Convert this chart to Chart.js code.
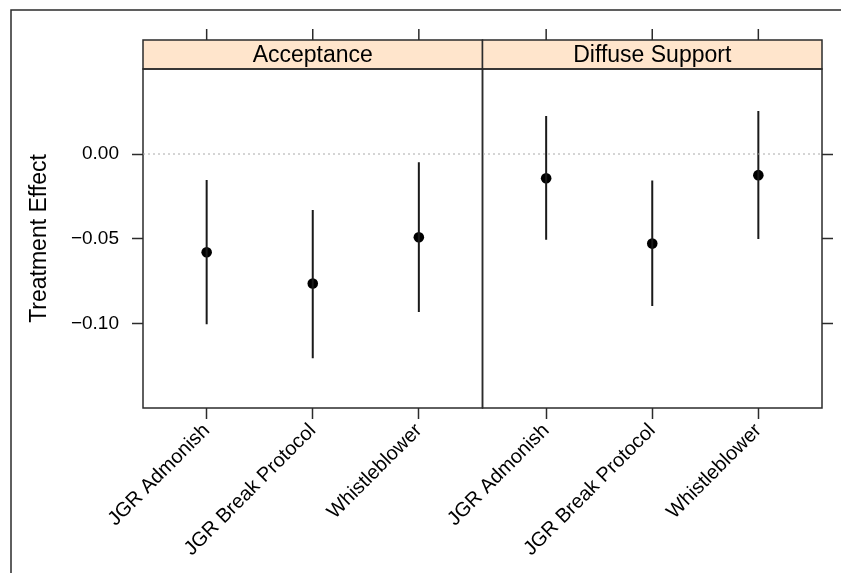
<!DOCTYPE html>
<html>
<head>
<meta charset="utf-8">
<script src="https://cdn.jsdelivr.net/npm/chart.js@4.4.1/dist/chart.umd.min.js"></script>
<style>
  body { margin: 0; background: #fff; }
  canvas { display: block; }
</style>
</head>
<body>
<canvas id="grafico" width="841" height="573"></canvas>
<script>
// datos del gráfico
const paneles = ["Acceptance", "Diffuse Support"];
const categorias = ["JGR Admonish", "JGR Break Protocol", "Whistleblower"];
const acceptanceEst = [-0.058, -0.0765, -0.0492];
const acceptanceLo = [-0.1006, -0.1206, -0.0933];
const acceptanceHi = [-0.0153, -0.0331, -0.0049];
const diffuseEst = [-0.0143, -0.0529, -0.0125];
const diffuseLo = [-0.0506, -0.0898, -0.0502];
const diffuseHi = [0.0224, -0.0157, 0.0254];
const yTicks = [0, -0.05, -0.10];
const yTickLabels = ["0.00", "\u22120.05", "\u22120.10"];

// posiciones x: cada panel ocupa 3.2 unidades
const anchoPanel = 3.2;
const xMin = 0.4;
const xMax = xMin + anchoPanel * paneles.length;
const xPos = [];
const xLabels = [];
paneles.forEach((p, j) => {
    categorias.forEach((c, i) => {
        xPos.push(i + 1 + j * anchoPanel);
        xLabels.push(c);
    });
});
const est = acceptanceEst.concat(diffuseEst);
const lo = acceptanceLo.concat(diffuseLo);
const hi = acceptanceHi.concat(diffuseHi);

// segmentos de los intervalos (null separa cada barra)
const barras = [];
xPos.forEach((x, i) => {
    barras.push({ x: x, y: lo[i] }, { x: x, y: hi[i] }, { x: x, y: null });
});
const puntos = xPos.map((x, i) => ({ x: x, y: est[i] }));

const fuente = "'Liberation Sans', Arial, sans-serif";
const borde = "#2b2b2b";
const alturaTira = 29;

// tiras, marco y cajas de los paneles
const panelesPlugin = {
    id: "paneles",
    beforeDraw(chart) {
        const c = chart.ctx;
        c.save();
        c.fillStyle = "#fff";
        c.fillRect(0, 0, chart.width, chart.height);
        c.strokeStyle = borde;
        c.lineWidth = 1.5;
        c.strokeRect(11, 10, chart.width + 20, chart.height + 20);
        c.restore();
    },
    beforeDatasetsDraw(chart) {
        const c = chart.ctx;
        const area = chart.chartArea;
        const sx = chart.scales.x;
        c.save();
        c.strokeStyle = borde;
        c.lineWidth = 1.5;
        paneles.forEach((nombre, j) => {
            const x0 = sx.getPixelForValue(xMin + j * anchoPanel);
            const x1 = sx.getPixelForValue(xMin + (j + 1) * anchoPanel);
            c.fillStyle = "#ffe5cc";
            c.fillRect(x0, area.top - alturaTira, x1 - x0, alturaTira);
            c.strokeRect(x0, area.top - alturaTira, x1 - x0, alturaTira);
            c.strokeRect(x0, area.top, x1 - x0, area.bottom - area.top);
            c.fillStyle = "#000";
            c.font = "23px " + fuente;
            c.textAlign = "center";
            c.textBaseline = "middle";
            c.fillText(nombre, (x0 + x1) / 2, area.top - alturaTira / 2 + 1);
        });
        // marcas superiores
        xPos.forEach(x => {
            const px = sx.getPixelForValue(x);
            c.beginPath();
            c.moveTo(px, area.top - alturaTira);
            c.lineTo(px, area.top - alturaTira - 11);
            c.stroke();
        });
        c.restore();
    }
};

const ejeY = (pos, conEtiquetas) => ({
    type: "linear",
    position: pos,
    min: -0.150,
    max: 0.0502,
    afterBuildTicks: s => { s.ticks = yTicks.map(v => ({ value: v })); },
    afterFit: s => { s.width = pos === "left" ? 143 : 841 - 822; },
    border: { display: false },
    grid: { drawOnChartArea: false, tickLength: 11, tickColor: borde, tickWidth: 1.5 },
    ticks: {
        display: conEtiquetas,
        padding: 13,
        color: "#000",
        font: { family: fuente, size: 19 },
        callback: v => yTickLabels[yTicks.indexOf(v)]
    },
    title: {
        display: conEtiquetas,
        text: "Treatment Effect",
        color: "#000",
        font: { family: fuente, size: 23 },
        padding: { top: 26, bottom: 0 }
    }
});

new Chart(document.getElementById("grafico"), {
    type: "scatter",
    data: {
        datasets: [
            {
                data: [{ x: xMin, y: 0 }, { x: xMax, y: 0 }],
                showLine: true,
                borderColor: "#aaa",
                borderWidth: 1,
                borderDash: [2, 3],
                pointRadius: 0
            },
            {
                data: barras,
                showLine: true,
                spanGaps: false,
                borderColor: "#1a1a1a",
                borderWidth: 2,
                pointRadius: 0
            },
            {
                data: puntos,
                pointRadius: 5.3,
                pointBackgroundColor: "#000",
                pointBorderColor: "#000",
                pointBorderWidth: 0
            }
        ]
    },
    options: {
        responsive: false,
        animation: false,
        events: [],
        layout: { padding: { top: 69, left: 0, right: 0, bottom: 0 } },
        plugins: { legend: { display: false }, tooltip: { enabled: false } },
        scales: {
            x: {
                type: "linear",
                min: xMin,
                max: xMax,
                afterBuildTicks: s => { s.ticks = xPos.map(v => ({ value: v })); },
                afterFit: s => { s.height = 573 - 408; },
                border: { display: false },
                grid: { drawOnChartArea: false, tickLength: 11, tickColor: borde, tickWidth: 1.5 },
                ticks: {
                    minRotation: 45,
                    maxRotation: 45,
                    autoSkip: false,
                    padding: 0,
                    color: "#000",
                    font: { family: fuente, size: 20 },
                    callback: v => xLabels[xPos.indexOf(v)]
                }
            },
            y: ejeY("left", true),
            y2: ejeY("right", false)
        }
    },
    plugins: [panelesPlugin]
});
</script>
</body>
</html>
